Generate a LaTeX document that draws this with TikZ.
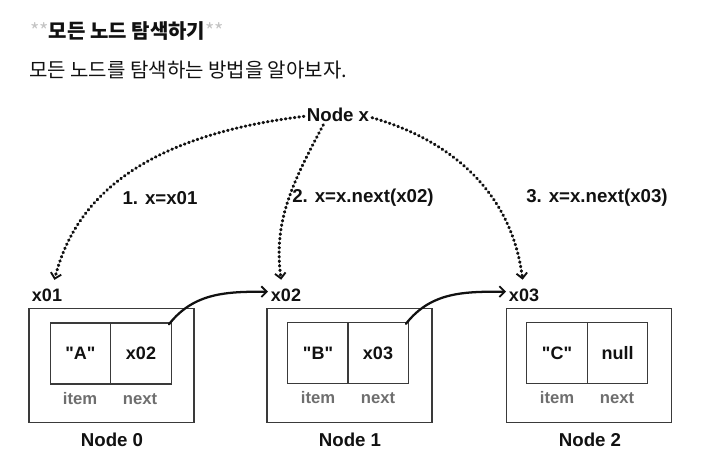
\documentclass[tikz,border=0pt]{standalone}
\usepackage{fontspec}
\setmainfont{Liberation Sans}[Ligatures=TeXOff]
\newfontfamily\kr{Noto Sans CJK KR}
\usetikzlibrary{arrows.meta}
\definecolor{ink}{HTML}{111111}
\definecolor{boxline}{HTML}{3A3A3A}
\definecolor{fieldname}{HTML}{6E6E6E}
\definecolor{stars}{HTML}{C4C4C4}
\tikzset{
  heading/.style={anchor=west, inner sep=0pt, font=\kr\fontsize{15}{18}\selectfont, text=ink},
  caption/.style={inner sep=2pt, font=\bfseries\fontsize{14}{16}\selectfont, text=ink},
  addr/.style={inner sep=2pt, font=\bfseries\fontsize{13.5}{16}\selectfont, text=ink},
  outerbox/.style={draw=boxline, line width=1.1pt, minimum width=123.75pt, minimum height=85.5pt, inner sep=0pt},
  cell/.style={draw=boxline, line width=1.05pt, minimum width=45.4pt, minimum height=45.75pt, inner sep=0pt,
    font=\bfseries\fontsize{13.5}{15}\selectfont, text=ink},
  field/.style={inner sep=1pt, font=\bfseries\fontsize{12.5}{14}\selectfont, text=fieldname},
  nodename/.style={inner sep=1pt, font=\bfseries\fontsize{14}{16}\selectfont, text=ink},
  tip/.style={-{Straight Barb[length=4pt,width=8pt,line width=1.4pt]}},
  dotlink/.style={tip, draw=ink, line width=2.3pt, line cap=round, dash pattern=on 0.5pt off 2.9pt, shorten >=4.5pt},
  nextlink/.style={tip, draw=ink, line width=1.7pt, line cap=round}
}
\begin{document}
\begin{tikzpicture}[x=0.75pt,y=-0.75pt]
\useasboundingbox (0,0) rectangle (702,470);

% headings
\node[heading] (title) at (30,31) {{\color{stars}**}\bfseries 모든 노드 탐색하기{\mdseries\color{stars}**}};
\node[heading] (subtitle) at (29,70) {모든 노드를 탐색하는 방법을 알아보자.};

% pointer variable and steps
\node[caption] (nodex) at (338,115) {Node x};
\node[caption] (s1) at (160,198) {1. x=x01};
\node[caption] (s2) at (363,198) {2. x=x.next(x02)};
\node[caption] (s3) at (597,198) {3. x=x.next(x03)};

% linked list nodes
\node[outerbox] (box0) at (111.5,365.5) {};
\node[outerbox] (box1) at (349.5,365.5) {};
\node[outerbox] (box2) at (589,365.5) {};

\node[cell] (item0) at (80.5,353.5) {"A"};
\node[cell] (next0) at (141,353.5) {x02};
\node[cell] (item1) at (318,353) {"B"};
\node[cell] (next1) at (378,353) {x03};
\node[cell] (item2) at (557,353) {"C"};
\node[cell] (next2) at (617.5,353) {null};

\node[field] (f0a) at (80,399) {item};
\node[field] (f0b) at (140,399) {next};
\node[field] (f1a) at (318,398) {item};
\node[field] (f1b) at (378,398) {next};
\node[field] (f2a) at (557,398) {item};
\node[field] (f2b) at (617,398) {next};

\node[nodename] (n0) at (112,440) {Node 0};
\node[nodename] (n1) at (350,440) {Node 1};
\node[nodename] (n2) at (590,440) {Node 2};

\node[addr] (a1) at (47,295) {x01};
\node[addr] (a2) at (286,295) {x02};
\node[addr] (a3) at (524,295) {x03};

% traversal steps
\draw[dotlink] ([yshift=-1pt]nodex.west) to[out=187,in=76] ([xshift=4.5pt]a1.north);
\draw[dotlink] ([xshift=-11pt]nodex.south) to[out=242,in=98] ([xshift=-3pt]a2.north);
\draw[dotlink] ([yshift=-2pt]nodex.east) to[out=-16,in=97] ([xshift=-0.5pt]a3.north);

% next pointers
\draw[nextlink] ([shift={(-3,2)}]next0.north east) to[out=52,in=180] ([yshift=2.5pt]a2.west);
\draw[nextlink] ([shift={(-3,2)}]next1.north east) to[out=52,in=180] ([yshift=2.5pt]a3.west);
\end{tikzpicture}
\end{document}
